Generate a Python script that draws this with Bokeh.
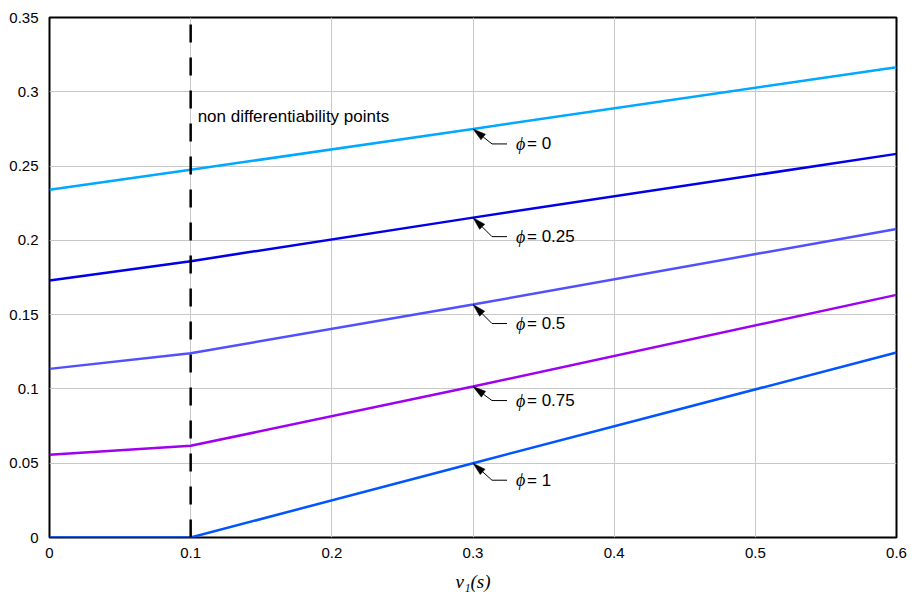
import numpy as np
from bokeh.plotting import figure
from bokeh.models import Range1d, FixedTicker
from bokeh.core.properties import value
from bokeh.embed import file_html
from bokeh.resources import INLINE

# ---- data ----
v1 = [0.0, 0.1, 0.3, 0.6]
phi_0 = [0.234, 0.2475, 0.275, 0.3165]
phi_025 = [0.173, 0.186, 0.2153, 0.2582]
phi_05 = [0.1135, 0.124, 0.1568, 0.2077]
phi_075 = [0.0557, 0.0617, 0.1016, 0.1633]
phi_1 = [0.0, 0.0, 0.05, 0.1245]
phi_values = ["0", "0.25", "0.5", "0.75", "1"]
kink_x = 0.1
label_x = 0.3
x_ticks = [0, 0.1, 0.2, 0.3, 0.4, 0.5, 0.6]
x_tick_labels = ["0", "0.1", "0.2", "0.3", "0.4", "0.5", "0.6"]
y_ticks = [0, 0.05, 0.1, 0.15, 0.2, 0.25, 0.3, 0.35]
y_tick_labels = ["0", "0.05", "0.1", "0.15", "0.2", "0.25", "0.3", "0.35"]
note_text = "non differentiability points"

series = [phi_0, phi_025, phi_05, phi_075, phi_1]
colors = ["#00a8ff", "#0000e8", "#5050ff", "#a000f0", "#0055ff"]
label_drop_px = [15, 19, 19, 14, 17]

X0, X1, Y0, Y1 = 0.0, 0.6, 0.0, 0.35
FW, FH = 847, 520
sx = FW / (X1 - X0)
sy = FH / (Y1 - Y0)

p = figure(width=908, height=598, output_backend="svg", toolbar_location=None,
           x_range=Range1d(X0, X1), y_range=Range1d(Y0, Y1),
           min_border_left=49, min_border_right=12, min_border_top=17, min_border_bottom=61)
p.outline_line_color = "black"
p.outline_line_width = 2
p.grid.grid_line_color = "#c8c8c8"
p.grid.grid_line_width = 1
p.xaxis.ticker = FixedTicker(ticks=x_ticks)
p.yaxis.ticker = FixedTicker(ticks=y_ticks)
p.xaxis.major_label_overrides = {t: l for t, l in zip(x_ticks, x_tick_labels)}
p.yaxis.major_label_overrides = {t: l for t, l in zip(y_ticks, y_tick_labels)}
for ax in (p.xaxis, p.yaxis):
    ax.axis_line_color = None
    ax.major_tick_line_color = None
    ax.minor_tick_line_color = None
    ax.major_label_text_font = "Liberation Sans"
    ax.major_label_text_font_size = "15px"
    ax.major_label_text_color = "black"
p.xaxis.major_label_standoff = 4
p.yaxis.major_label_standoff = 5
p.xaxis.axis_label = "v\u2081(s)"
p.xaxis.axis_label_text_font = "Liberation Serif"
p.xaxis.axis_label_text_font_style = "italic"
p.xaxis.axis_label_text_font_size = "19px"
p.xaxis.axis_label_text_color = "black"
p.xaxis.axis_label_standoff = 10

# curves
for ys, c in zip(series, colors):
    p.line(v1, ys, line_color=c, line_width=2.5)

# dashed vertical line at kink
p.line([kink_x, kink_x], [Y0, Y1], line_color="black", line_width=2.5, line_dash="18 15")
p.text(x=[kink_x], y=[0.2833], text=[note_text], x_offset=7,
       text_font=value("Liberation Sans"), text_font_size="17px",
       text_baseline="middle", text_align="left", text_color="black")

# arrows + labels at x = 0.3
idx = v1.index(label_x)
for ys, lab, drop in zip(series, phi_values, label_drop_px):
    tx, ty = label_x, ys[idx]
    dxp, dyp = 19.0, float(drop)
    L = np.hypot(dxp, dyp)
    ux, uy = dxp / L, dyp / L
    hl, hw = 13.0, 3.6
    bx, by = hl * ux, hl * uy
    nx, ny = -uy, ux
    def to_data(px, py):
        return tx + px / sx, ty - py / sy
    c1 = to_data(bx + hw * nx, by + hw * ny)
    c2 = to_data(bx - hw * nx, by - hw * ny)
    p.patch([tx, c1[0], c2[0]], [ty, c1[1], c2[1]], fill_color="black", line_color="black", line_width=0.5)
    b = to_data(bx, by)
    tail = to_data(dxp, dyp)
    hend = to_data(dxp + 15, dyp)
    p.line([b[0], tail[0], hend[0]], [b[1], tail[1], hend[1]], line_color="black", line_width=1)
    p.text(x=[tx], y=[tail[1]], text=["\u03d5"], x_offset=43,
           text_font=value("Liberation Serif"), text_font_style="italic", text_font_size="18px",
           text_baseline="middle", text_align="left", text_color="black")
    p.text(x=[tx], y=[tail[1]], text=["= " + lab], x_offset=54,
           text_font=value("Liberation Sans"), text_font_size="17px",
           text_baseline="middle", text_align="left", text_color="black")

open("out.html", "w").write(file_html(p, INLINE))
